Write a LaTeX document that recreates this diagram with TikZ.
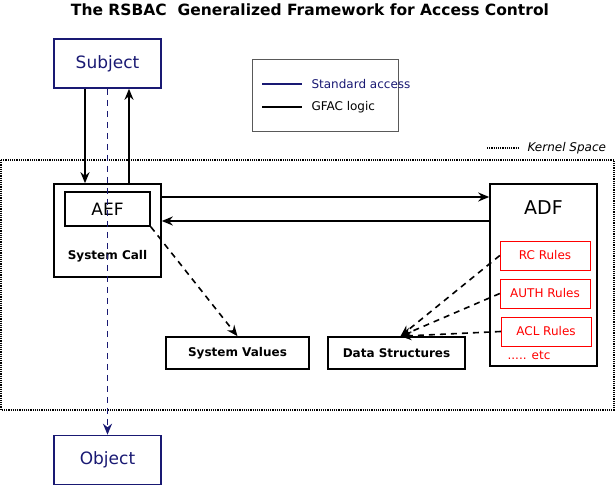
\documentclass[tikz,border=0pt]{standalone}
\usepackage{fontspec}
\setmainfont{DejaVu Sans}
\usetikzlibrary{arrows.meta}
\definecolor{stdblue}{RGB}{25,25,115}
\definecolor{rulered}{RGB}{255,0,0}
\newcommand{\fs}[1]{\fontsize{#1}{#1}\selectfont}
\tikzset{
  box/.style={draw, line width=1.6pt, minimum width=107pt, minimum height=49pt, inner sep=0pt},
  small/.style={draw, line width=1.6pt, inner sep=0pt, font=\fs{12}\bfseries},
  rule/.style={draw=rulered, text=rulered, inner sep=0pt, minimum width=90pt, minimum height=29pt, font=\fs{12}},
  logic/.style={line width=1.6pt, -{Stealth[length=11pt,width=9pt]}},
  lookup/.style={line width=1.6pt, dash pattern=on 6pt off 5pt, -{Stealth[length=11pt,width=9pt]}},
}
\begin{document}
\begin{tikzpicture}[x=1pt, y=-1pt]
  \useasboundingbox (0,0) rectangle (616,486);
  \node[font=\fs{15.5}\bfseries] (title) at (310,10) {The RSBAC\ \ Generalized Framework for Access Control};

  % legend
  \draw[gray!70!black] (252,59) rectangle (398,131);
  \draw[stdblue, line width=1.2pt] (262,84) -- (302,84);
  \node[anchor=west, text=stdblue, font=\fs{12}] (lstd) at (308,84) {Standard access};
  \draw[line width=1.6pt] (262,107) -- (302,107);
  \node[anchor=west, font=\fs{12}] (lgfac) at (308,107) {GFAC logic};

  % kernel space
  \draw[densely dotted, line width=1.2pt] (1,160) rectangle (614,410);
  \draw[densely dotted, line width=1.2pt] (487,148) -- (520,148);
  \node[anchor=west, font=\fs{12}\itshape] (kspace) at (524,148) {Kernel Space};

  % nodes
  \node[box, draw=stdblue, text=stdblue, font=\fs{17}] (subject) at (107.5,63.5) {Subject};
  \node[box, draw=stdblue, text=stdblue, font=\fs{17}] (object) at (107.5,460) {Object};
  \node[box, minimum height=93pt] (syscall) at (107.5,230.5) {};
  \node[small, minimum width=85pt, minimum height=34pt, font=\fs{17}] (aef) at (107.5,209) {AEF};
  \node[font=\fs{12}\bfseries] (sclabel) at (107.5,256) {System Call};
  \node[box, minimum height=182pt] (adf) at (543.5,275) {};
  \node[font=\fs{19}] (adflabel) at (543.5,208) {ADF};
  \node[rule] (rc) at (545,255.5) {RC Rules};
  \node[rule] (auth) at (545,293.5) {AUTH Rules};
  \node[rule] (acl) at (546,331.5) {ACL Rules};
  \node[text=rulered, font=\fs{12}] (etc) at (529,355) {..... etc};
  \node[small, minimum width=143pt, minimum height=32pt] (sysval) at (237.5,353) {System Values};
  \node[small, minimum width=137pt, minimum height=32pt] (data) at (396.5,353) {Data Structures};

  % connectors
  \draw[stdblue, line width=1.6pt, dash pattern=on 6pt off 5pt, -{Stealth[length=11pt,width=9pt]}] (subject.south) -- (object.north);
  \draw[logic] (subject.south -| 85,0) -- (syscall.north -| 85,0);
  \draw[logic] (syscall.north -| 129,0) -- (subject.south -| 129,0);
  \draw[logic] (syscall.east |- 0,197) -- (adf.west |- 0,197);
  \draw[logic] (adf.west |- 0,221) -- (syscall.east |- 0,221);
  \draw[lookup] (aef.south east) -- (sysval.north);
  \draw[lookup] (rc.west) -- ([xshift=4pt]data.north);
  \draw[lookup] (auth.west) -- ([xshift=4pt]data.north);
  \draw[lookup] (acl.west) -- ([xshift=4pt]data.north);
\end{tikzpicture}
\end{document}
